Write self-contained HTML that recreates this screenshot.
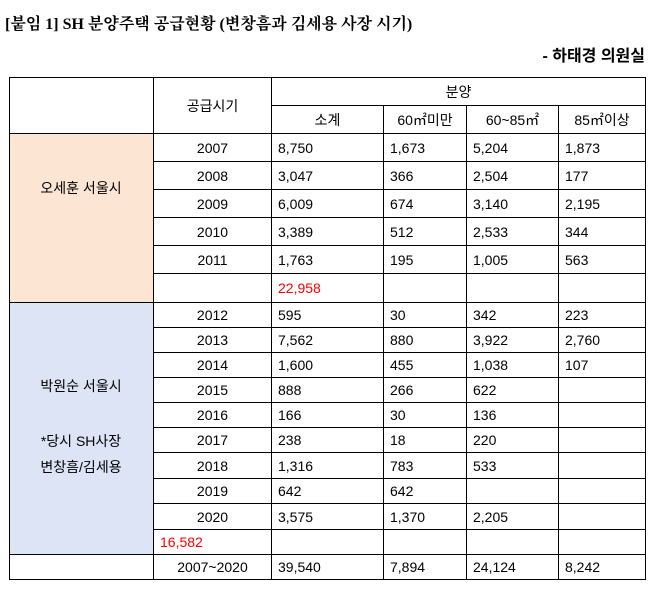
<!DOCTYPE html>
<html><head><meta charset="utf-8"><style>
body{margin:0;width:657px;height:595px;background:#fff;position:relative;font-family:"Liberation Sans","Noto Sans CJK KR",sans-serif;color:#000;overflow:hidden}
.t{position:absolute;white-space:nowrap}
table{position:absolute;left:9px;top:77px;width:636px;table-layout:fixed;border-collapse:collapse;font-size:14px}
td{border:1.5px solid #000;padding:0 0 0 6px;overflow:hidden;white-space:nowrap}
.c{text-align:center;padding:0}
.r{color:#f00}
.lbl{position:absolute;left:9px;width:144px;text-align:center;font-size:14px}
</style></head><body>
<div class="t" style="left:5px;top:11px;font-size:16px;font-weight:bold;font-family:'Liberation Serif','Noto Serif CJK SC',serif">[붙임 1] SH 분양주택 공급현황 (변창흠과 김세용 사장 시기)</div>
<div class="t" style="right:12px;top:42px;font-size:16px;font-weight:bold">- 하태경 의원실</div>
<table>
<colgroup><col style="width:144px"><col style="width:118px"><col style="width:112px"><col style="width:83px"><col style="width:92px"><col style="width:87px"></colgroup>
<tr style="height:28px"><td rowspan="2"></td><td rowspan="2" class="c">공급시기</td><td colspan="4" class="c">분양</td></tr>
<tr style="height:28px"><td class="c">소계</td><td class="c">60㎡미만</td><td class="c">60~85㎡</td><td class="c">85㎡이상</td></tr>
<tr style="height:28px"><td rowspan="6" style="background:#fde5d3"></td><td class="c">2007</td><td>8,750</td><td>1,673</td><td>5,204</td><td>1,873</td></tr>
<tr style="height:28px"><td class="c">2008</td><td>3,047</td><td>366</td><td>2,504</td><td>177</td></tr>
<tr style="height:28px"><td class="c">2009</td><td>6,009</td><td>674</td><td>3,140</td><td>2,195</td></tr>
<tr style="height:28px"><td class="c">2010</td><td>3,389</td><td>512</td><td>2,533</td><td>344</td></tr>
<tr style="height:28px"><td class="c">2011</td><td>1,763</td><td>195</td><td>1,005</td><td>563</td></tr>
<tr style="height:29px"><td></td><td class="r">22,958</td><td></td><td></td><td></td></tr>
<tr style="height:25px"><td rowspan="10" style="background:#dce4f5"></td><td class="c">2012</td><td>595</td><td>30</td><td>342</td><td>223</td></tr>
<tr style="height:25px"><td class="c">2013</td><td>7,562</td><td>880</td><td>3,922</td><td>2,760</td></tr>
<tr style="height:25px"><td class="c">2014</td><td>1,600</td><td>455</td><td>1,038</td><td>107</td></tr>
<tr style="height:25px"><td class="c">2015</td><td>888</td><td>266</td><td>622</td><td></td></tr>
<tr style="height:25px"><td class="c">2016</td><td>166</td><td>30</td><td>136</td><td></td></tr>
<tr style="height:25px"><td class="c">2017</td><td>238</td><td>18</td><td>220</td><td></td></tr>
<tr style="height:26px"><td class="c">2018</td><td>1,316</td><td>783</td><td>533</td><td></td></tr>
<tr style="height:25px"><td class="c">2019</td><td>642</td><td>642</td><td></td><td></td></tr>
<tr style="height:26px"><td class="c">2020</td><td>3,575</td><td>1,370</td><td>2,205</td><td></td></tr>
<tr style="height:25px"><td class="r">16,582</td><td></td><td></td><td></td><td></td></tr>
<tr style="height:25px"><td></td><td class="c">2007~2020</td><td>39,540</td><td>7,894</td><td>24,124</td><td>8,242</td></tr>
</table>
<div class="lbl" style="top:178px">오세훈 서울시</div>
<div class="lbl" style="top:376px">박원순 서울시</div>
<div class="lbl" style="top:431px">*당시 SH사장</div>
<div class="lbl" style="top:457px">변창흠/김세용</div>
</body></html>
